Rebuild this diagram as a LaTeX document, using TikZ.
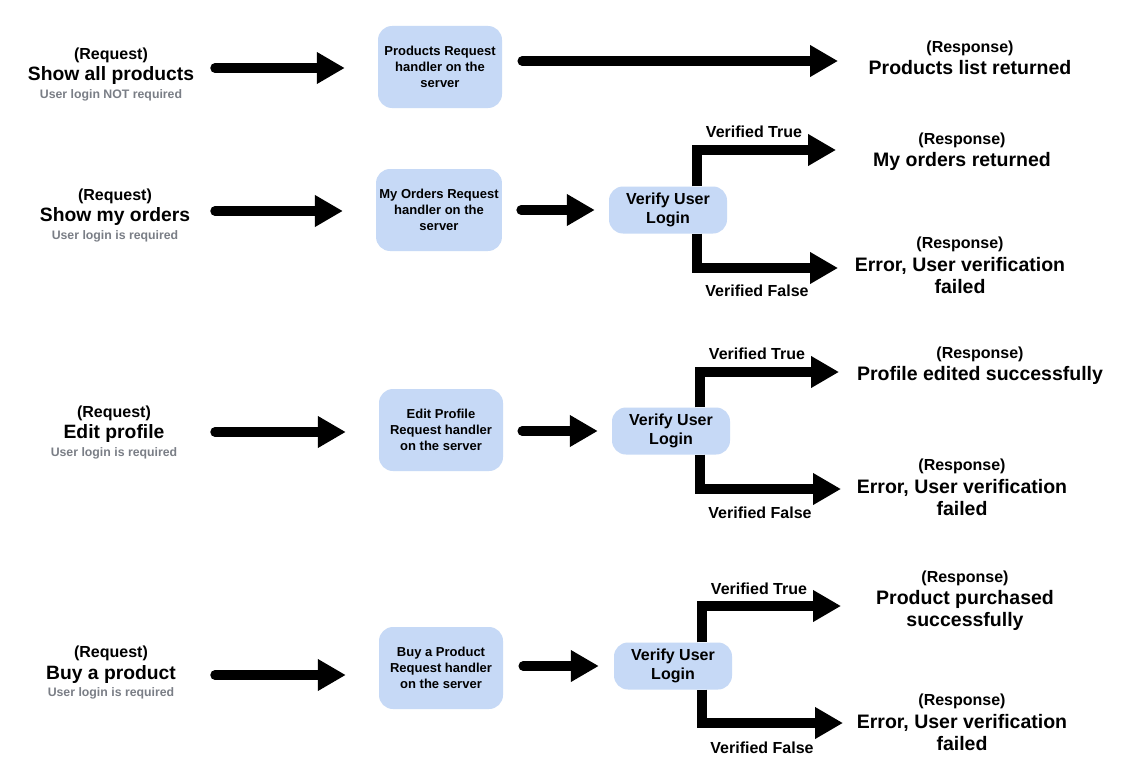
\documentclass[tikz,border=0pt]{standalone}
\usepackage{fontspec}
\setmainfont{Liberation Sans}
\usetikzlibrary{arrows.meta,calc}

\definecolor{boxblue}{RGB}{198,217,246}
\definecolor{subgray}{RGB}{122,126,134}

\tikzset{
  handler/.style={rounded corners=14pt, fill=boxblue, minimum width=124pt, minimum height=82pt,
    align=center, font=\bfseries\fontsize{13}{16}\selectfont},
  verify/.style={rounded corners=14pt, fill=boxblue, minimum width=118pt, minimum height=47pt,
    align=center, font=\bfseries\fontsize{16}{19}\selectfont},
  bigarrow/.style={line width=9.5pt, line cap=round, -{Triangle[length=28pt,width=30pt]}},
  branch/.style={bigarrow, line cap=butt},
  reqtag/.style={inner sep=0pt, yshift=-2pt, font=\bfseries\fontsize{16}{18}\selectfont},
  reqtitle/.style={inner sep=0pt, yshift=-2pt, font=\bfseries\fontsize{19.3}{22}\selectfont},
  reqsub/.style={inner sep=0pt, yshift=-2pt, text=subgray, font=\bfseries\fontsize{12.3}{14}\selectfont},
  verlabel/.style={inner sep=0pt, yshift=-2pt, font=\bfseries\fontsize{16}{18}\selectfont},
  resptag/.style={inner sep=0pt, yshift=-2pt, font=\bfseries\fontsize{16}{18}\selectfont},
  resptext/.style={inner sep=0pt, yshift=-2pt, align=center, font=\bfseries\fontsize{19.5}{22}\selectfont},
}

\begin{document}
\begin{tikzpicture}[x=1pt, y=-1pt]
            \useasboundingbox (0,0) rectangle (1123,768);
            \fill[white] (0,0) rectangle (1123,768);

            % row 1: show all products
            \node [reqtag] (r1tag) at (111,53) {(Request)};
            \node [reqtitle] (r1title) at (111,74) {Show all products};
            \node [reqsub] (r1sub) at (111,93) {User login NOT required};
            \node [handler] (h1) at (440,67) {Products Request\\handler on the\\server};
            \coordinate (s1) at (215,68);
            \coordinate (e1) at (838,61);
            \draw [bigarrow, shorten >=33pt] (s1) -- (s1 -| h1.west);
            \draw [bigarrow, shorten <=20pt] (h1.east |- e1) -- (e1);
            \node [resptag] (o1tag) at (970,46) {(Response)};
            \node [resptext] (o1) at (970,66) {Products list returned};

            % row 2: show my orders
            \node [reqtag] (r2tag) at (115,194) {(Request)};
            \node [reqtitle] (r2title) at (115,215) {Show my orders};
            \node [reqsub] (r2sub) at (115,234) {User login is required};
            \node [handler] (h2) at (439,210) {My Orders Request\\handler on the\\server};
            \node [verify] (v2) at (668,210) {Verify User\\Login};
            \coordinate (s2) at (215,211);
            \coordinate (t2) at (836,150);
            \coordinate (f2) at (838,268);
            \draw [bigarrow, shorten >=33pt] (s2) -- (s2 -| h2.west);
            \draw [bigarrow, shorten <=19pt, shorten >=14pt] (v2.west -| h2.east) -- (v2.west);
            \draw [branch] ($(v2.north)+(29,0)$) |- (t2);
            \draw [branch] ($(v2.south)+(29,0)$) |- (f2);
            \node [verlabel] (y2) at (754,130) {Verified True};
            \node [verlabel] (n2) at (757,289) {Verified False};
            \node [resptag] (o2tag) at (962,138) {(Response)};
            \node [resptext] (o2) at (962,159) {My orders returned};
            \node [resptag] (x2tag) at (960,242) {(Response)};
            \node [resptext] (x2) at (960,274) {Error, User verification\\failed};

            % row 3: edit profile
            \node [reqtag] (r3tag) at (114,411) {(Request)};
            \node [reqtitle] (r3title) at (114,432) {Edit profile};
            \node [reqsub] (r3sub) at (114,451) {User login is required};
            \node [handler] (h3) at (441,430) {Edit Profile\\Request handler\\on the server};
            \node [verify] (v3) at (671,431) {Verify User\\Login};
            \coordinate (s3) at (215,432);
            \coordinate (t3) at (839,372);
            \coordinate (f3) at (841,489);
            \draw [bigarrow, shorten >=33pt] (s3) -- (s3 -| h3.west);
            \draw [bigarrow, shorten <=19pt, shorten >=14pt] (v3.west -| h3.east) -- (v3.west);
            \draw [branch] ($(v3.north)+(29,0)$) |- (t3);
            \draw [branch] ($(v3.south)+(29,0)$) |- (f3);
            \node [verlabel] (y3) at (757,352) {Verified True};
            \node [verlabel] (n3) at (760,511) {Verified False};
            \node [resptag] (o3tag) at (980,352) {(Response)};
            \node [resptext] (o3) at (980,373) {Profile edited successfully};
            \node [resptag] (x3tag) at (962,464) {(Response)};
            \node [resptext] (x3) at (962,496) {Error, User verification\\failed};

            % row 4: buy a product
            \node [reqtag] (r4tag) at (111,651) {(Request)};
            \node [reqtitle] (r4title) at (111,672) {Buy a product};
            \node [reqsub] (r4sub) at (111,691) {User login is required};
            \node [handler] (h4) at (441,668) {Buy a Product\\Request handler\\on the server};
            \node [verify] (v4) at (673,666) {Verify User\\Login};
            \coordinate (s4) at (215,675);
            \coordinate (t4) at (841,606);
            \coordinate (f4) at (843,723);
            \draw [bigarrow, shorten >=33pt] (s4) -- (s4 -| h4.west);
            \draw [bigarrow, shorten <=20pt, shorten >=15pt] (v4.west -| h4.east) -- (v4.west);
            \draw [branch] ($(v4.north)+(29,0)$) |- (t4);
            \draw [branch] ($(v4.south)+(29,0)$) |- (f4);
            \node [verlabel] (y4) at (759,587) {Verified True};
            \node [verlabel] (n4) at (762,746) {Verified False};
            \node [resptag] (o4tag) at (965,576) {(Response)};
            \node [resptext] (o4) at (965,608) {Product purchased\\successfully};
            \node [resptag] (x4tag) at (962,699) {(Response)};
            \node [resptext] (x4) at (962,731) {Error, User verification\\failed};
        \end{tikzpicture}
\end{document}
